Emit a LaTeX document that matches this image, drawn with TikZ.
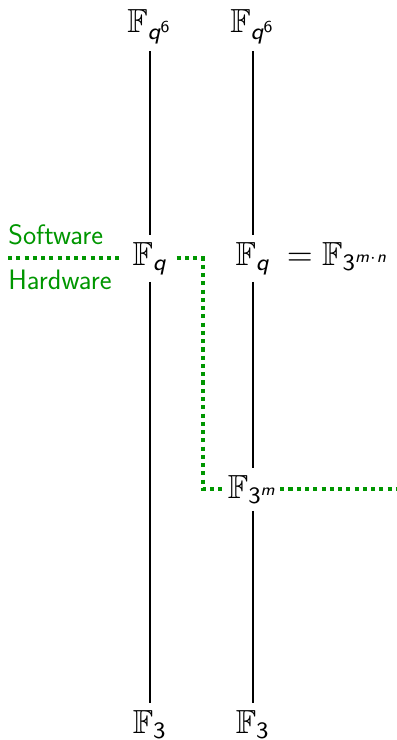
\documentclass[tikz,border=0pt]{standalone}
\usepackage{amsmath,amssymb}
\usetikzlibrary{positioning}
\newcommand{\fq}{\text{\sffamily\itshape q}}
\newcommand{\fm}{\text{\sffamily\itshape m}}
\newcommand{\fn}{\text{\sffamily\itshape n}}
\newcommand{\fdig}[1]{\text{\sffamily #1}}
\newcommand{\fld}[1]{\scalebox{1.9}{$#1$}}
\definecolor{splitgreen}{RGB}{0,150,0}
\tikzset{
  field/.style={anchor=base, inner xsep=5pt, inner ysep=4pt},
  tower/.style={line width=1.1pt},
  split/.style={splitgreen, line width=2.3pt, dash pattern=on 2.3pt off 2.4pt},
  splitlabel/.style={splitgreen, font=\fontsize{16}{19}\selectfont\sffamily, inner sep=0pt},
}
\begin{document}
\begin{tikzpicture}[x=0.02cm, y=-0.02cm]
        \useasboundingbox (0,0) rectangle (396,740);
        % Torre izquierda
        \node[field] (top1) at (150,33) {\fld{\mathbb{F}_{\fq^{\fdig{6}}}}};
        \node[field] (mid1) at (150,265) {\fld{\mathbb{F}_{\fq}}};
        \node[field] (bot1) at (150,733) {\fld{\mathbb{F}_{\fdig{3}}}};
        % Torre derecha
        \node[field] (top2) at (253,33) {\fld{\mathbb{F}_{\fq^{\fdig{6}}}}};
        \node[field] (mid2) at (253,265) {\fld{\mathbb{F}_{\fq}}};
        \node[field, anchor=base west, inner xsep=4pt] (eqr) at (mid2.base east) {\fld{=\mathbb{F}_{\fdig{3}^{\fm\cdot\fn}}}};
        \node[field, inner xsep=1pt] (low2) at (253,498) {\fld{\mathbb{F}_{\fdig{3}^{\fm}}}};
        \node[field] (bot2) at (253,733) {\fld{\mathbb{F}_{\fdig{3}}}};
        % Inclusiones
        \draw[tower] (top1) -- (mid1);
        \draw[tower] (mid1) -- (bot1);
        \draw[tower] (top2) -- (mid2);
        \draw[tower] (mid2) -- (low2);
        \draw[tower] (low2) -- (bot2);
        % Frontera software / hardware
        \path (8,0) coordinate (edgeL) (203,0) coordinate (bend) (396,0) coordinate (edgeR);
        \coordinate (swl) at (mid1.west -| edgeL);
        \draw[split] (swl) -- (mid1.west);
        \draw[split] (mid1.east) -- (mid1.east -| bend) |- (low2.west);
        \draw[split] (low2.east) -- (low2.east -| edgeR);
        \node[splitlabel, above right=0.26cm and 0pt of swl, anchor=south west] (sw) {Software};
        \node[splitlabel, below right=0.22cm and 0pt of swl, anchor=north west] (hw) {Hardware};
\end{tikzpicture}
\end{document}
